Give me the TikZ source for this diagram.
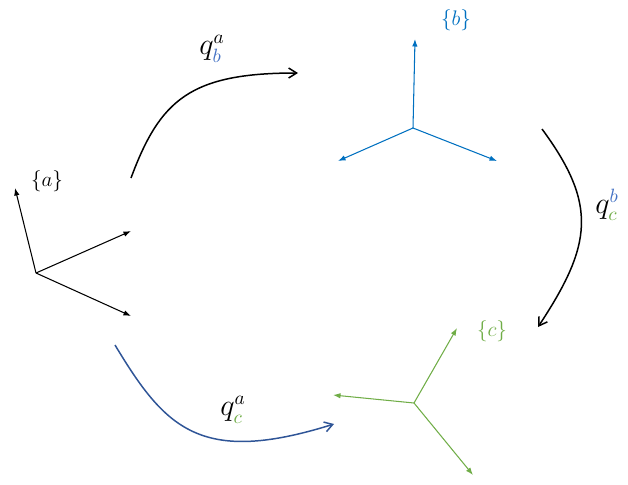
\documentclass[tikz,border=0pt]{standalone}
\usepackage{amsmath}
\usepackage{tikz}
\usetikzlibrary{arrows.meta,positioning,calc}
\definecolor{frameBlue}{HTML}{0070C0}
\definecolor{frameGreen}{HTML}{70AD47}
\definecolor{pathBlue}{HTML}{2F5597}
\definecolor{labBlue}{HTML}{4472C4}

\begin{document}
\begin{tikzpicture}[x=0.02cm,y=-0.02cm,
  axis/.style={-{Latex[length=1.5mm,width=1.1mm]},line width=0.6pt},
  motion/.style={-{Straight Barb[length=1.6mm,width=2mm]},line width=0.85pt},
  lab/.style={inner sep=1pt,font=\fontsize{13}{15}\selectfont},
  qlab/.style={inner sep=1pt,font=\fontsize{16}{18}\selectfont}]
\useasboundingbox (0,0) rectangle (628,484);
% frame {a}
\coordinate (oa) at (36,273);
\coordinate (ax) at (15,188);
\coordinate (ay) at (131,231);
\coordinate (az) at (131,316);
\draw[axis] (oa) -- (ax);
\draw[axis] (oa) -- (ay);
\draw[axis] (oa) -- (az);
\node[lab] (la) at (47,181) {$\{a\}$};
% frame {b}
\coordinate (ob) at (413,128);
\coordinate (bx) at (415,39);
\coordinate (by) at (338,161);
\coordinate (bz) at (497,161);
\draw[axis,frameBlue] (ob) -- (bx);
\draw[axis,frameBlue] (ob) -- (by);
\draw[axis,frameBlue] (ob) -- (bz);
\node[lab,frameBlue] (lb) at (456,20) {$\{b\}$};
% frame {c}
\coordinate (oc) at (414,403);
\coordinate (cx) at (457,328);
\coordinate (cy) at (333,395);
\coordinate (cz) at (473,475);
\draw[axis,frameGreen] (oc) -- (cx);
\draw[axis,frameGreen] (oc) -- (cy);
\draw[axis,frameGreen] (oc) -- (cz);
\node[lab,frameGreen] (lc) at (492,331) {$\{c\}$};
% motions between frames
\coordinate (ab0) at (131,178);
\coordinate (ab1) at (298,73);
\draw[motion] (ab0) .. controls (160,100) and (190,73) .. (ab1);
\node[qlab] (qab) at (212,49) {$q^{a}_{\textcolor{labBlue}{b}}$};
\coordinate (bc0) at (542,129);
\coordinate (bc1) at (538,327);
\draw[motion] (bc0) .. controls (598,205) and (592,245) .. (bc1);
\node[qlab] (qbc) at (607,205) {$q^{\textcolor{labBlue}{b}}_{\textcolor{frameGreen}{c}}$};
\coordinate (ac0) at (115,345);
\coordinate (ac1) at (334,424);
\draw[motion,pathBlue] (ac0) .. controls (165,428) and (200,466) .. (ac1);
\node[qlab] (qac) at (233,410) {$q^{a}_{\textcolor{frameGreen}{c}}$};
\end{tikzpicture}
\end{document}
